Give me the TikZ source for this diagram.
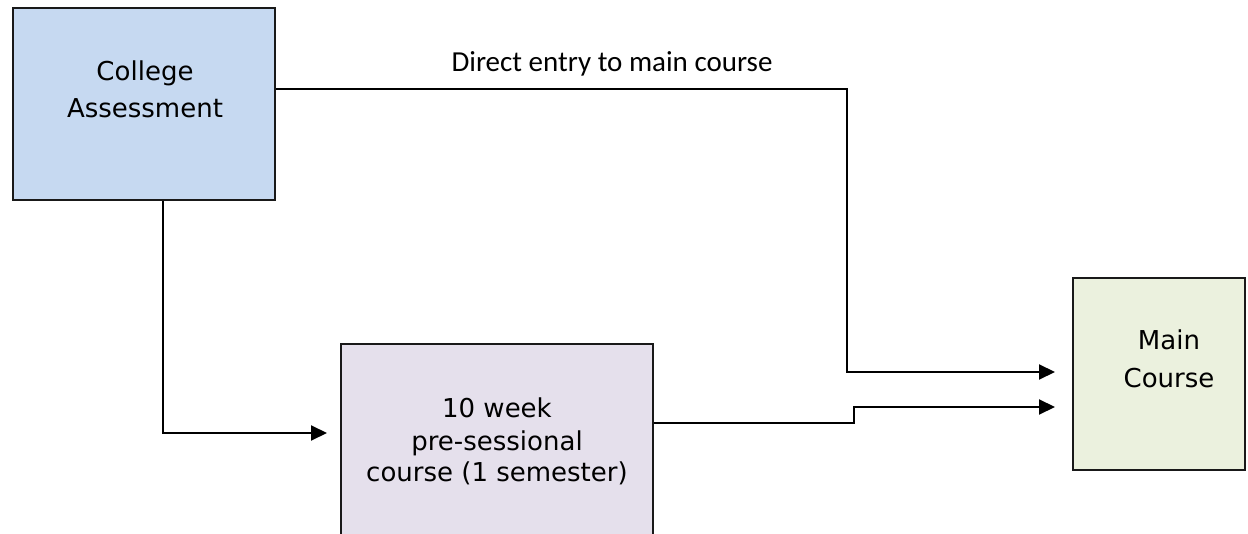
\documentclass[tikz,border=0pt]{standalone}
\usepackage{fontspec}
\setmainfont{DejaVu Sans}
\newfontfamily\calib{Carlito}
\usetikzlibrary{arrows.meta,calc}
\definecolor{cablue}{HTML}{C6D9F1}
\definecolor{prelilac}{HTML}{E5E0EC}
\definecolor{maingreen}{HTML}{EBF1DE}
\tikzset{
  box/.style={draw=black!90, line width=2pt, inner sep=0pt},
  boxtext/.style={align=center, font=\fontsize{26}{37}\selectfont, inner sep=0pt, anchor=base},
  conn/.style={line width=2pt, -{Triangle[length=16pt,width=15pt]}}
}
\begin{document}
\begin{tikzpicture}[x=1pt,y=-1pt]
\clip (0,0) rectangle (1248,534);
\fill[white] (0,0) rectangle (1248,534);
% boxes
\node[box, fill=cablue, minimum width=262pt, minimum height=192pt] (ca) at (144,104) {};
\node[box, fill=prelilac, minimum width=312pt, minimum height=220pt] (pre) at (497,454) {};
\node[box, fill=maingreen, minimum width=172pt, minimum height=192pt] (main) at (1159,374) {};
% texts (anchored at the baseline of the last line)
\node[boxtext] (catext) at (145,118) {College\\Assessment};
\node[boxtext, font=\fontsize{26}{32}\selectfont] (pretext) at (497,482) {10 week\\pre-sessional\\course (1 semester)};
\node[boxtext, font=\fontsize{26}{38}\selectfont] (maintext) at (1169,388) {Main\\Course};
\node[anchor=base, inner sep=0pt, font=\calib\fontsize{29}{33}\selectfont] (lbl) at (612,72) {Direct entry to main course};
% routing points
\coordinate (d1) at (847,89);
\coordinate (d2) at (847,372);
\coordinate (t1) at (1055,372);
\coordinate (p1) at (163,433);
\coordinate (p2) at (327,433);
\coordinate (s1) at (854,423);
\coordinate (s2) at (854,407);
\coordinate (t2) at (1055,407);
% connectors
\draw[conn] (ca.east |- d1) -- (d1) -- (d2) -- (t1);
\draw[conn] (ca.south -| p1) -- (p1) -- (p2);
\draw[conn] (pre.east |- s1) -- (s1) -- (s2) -- (t2);
\end{tikzpicture}
\end{document}
